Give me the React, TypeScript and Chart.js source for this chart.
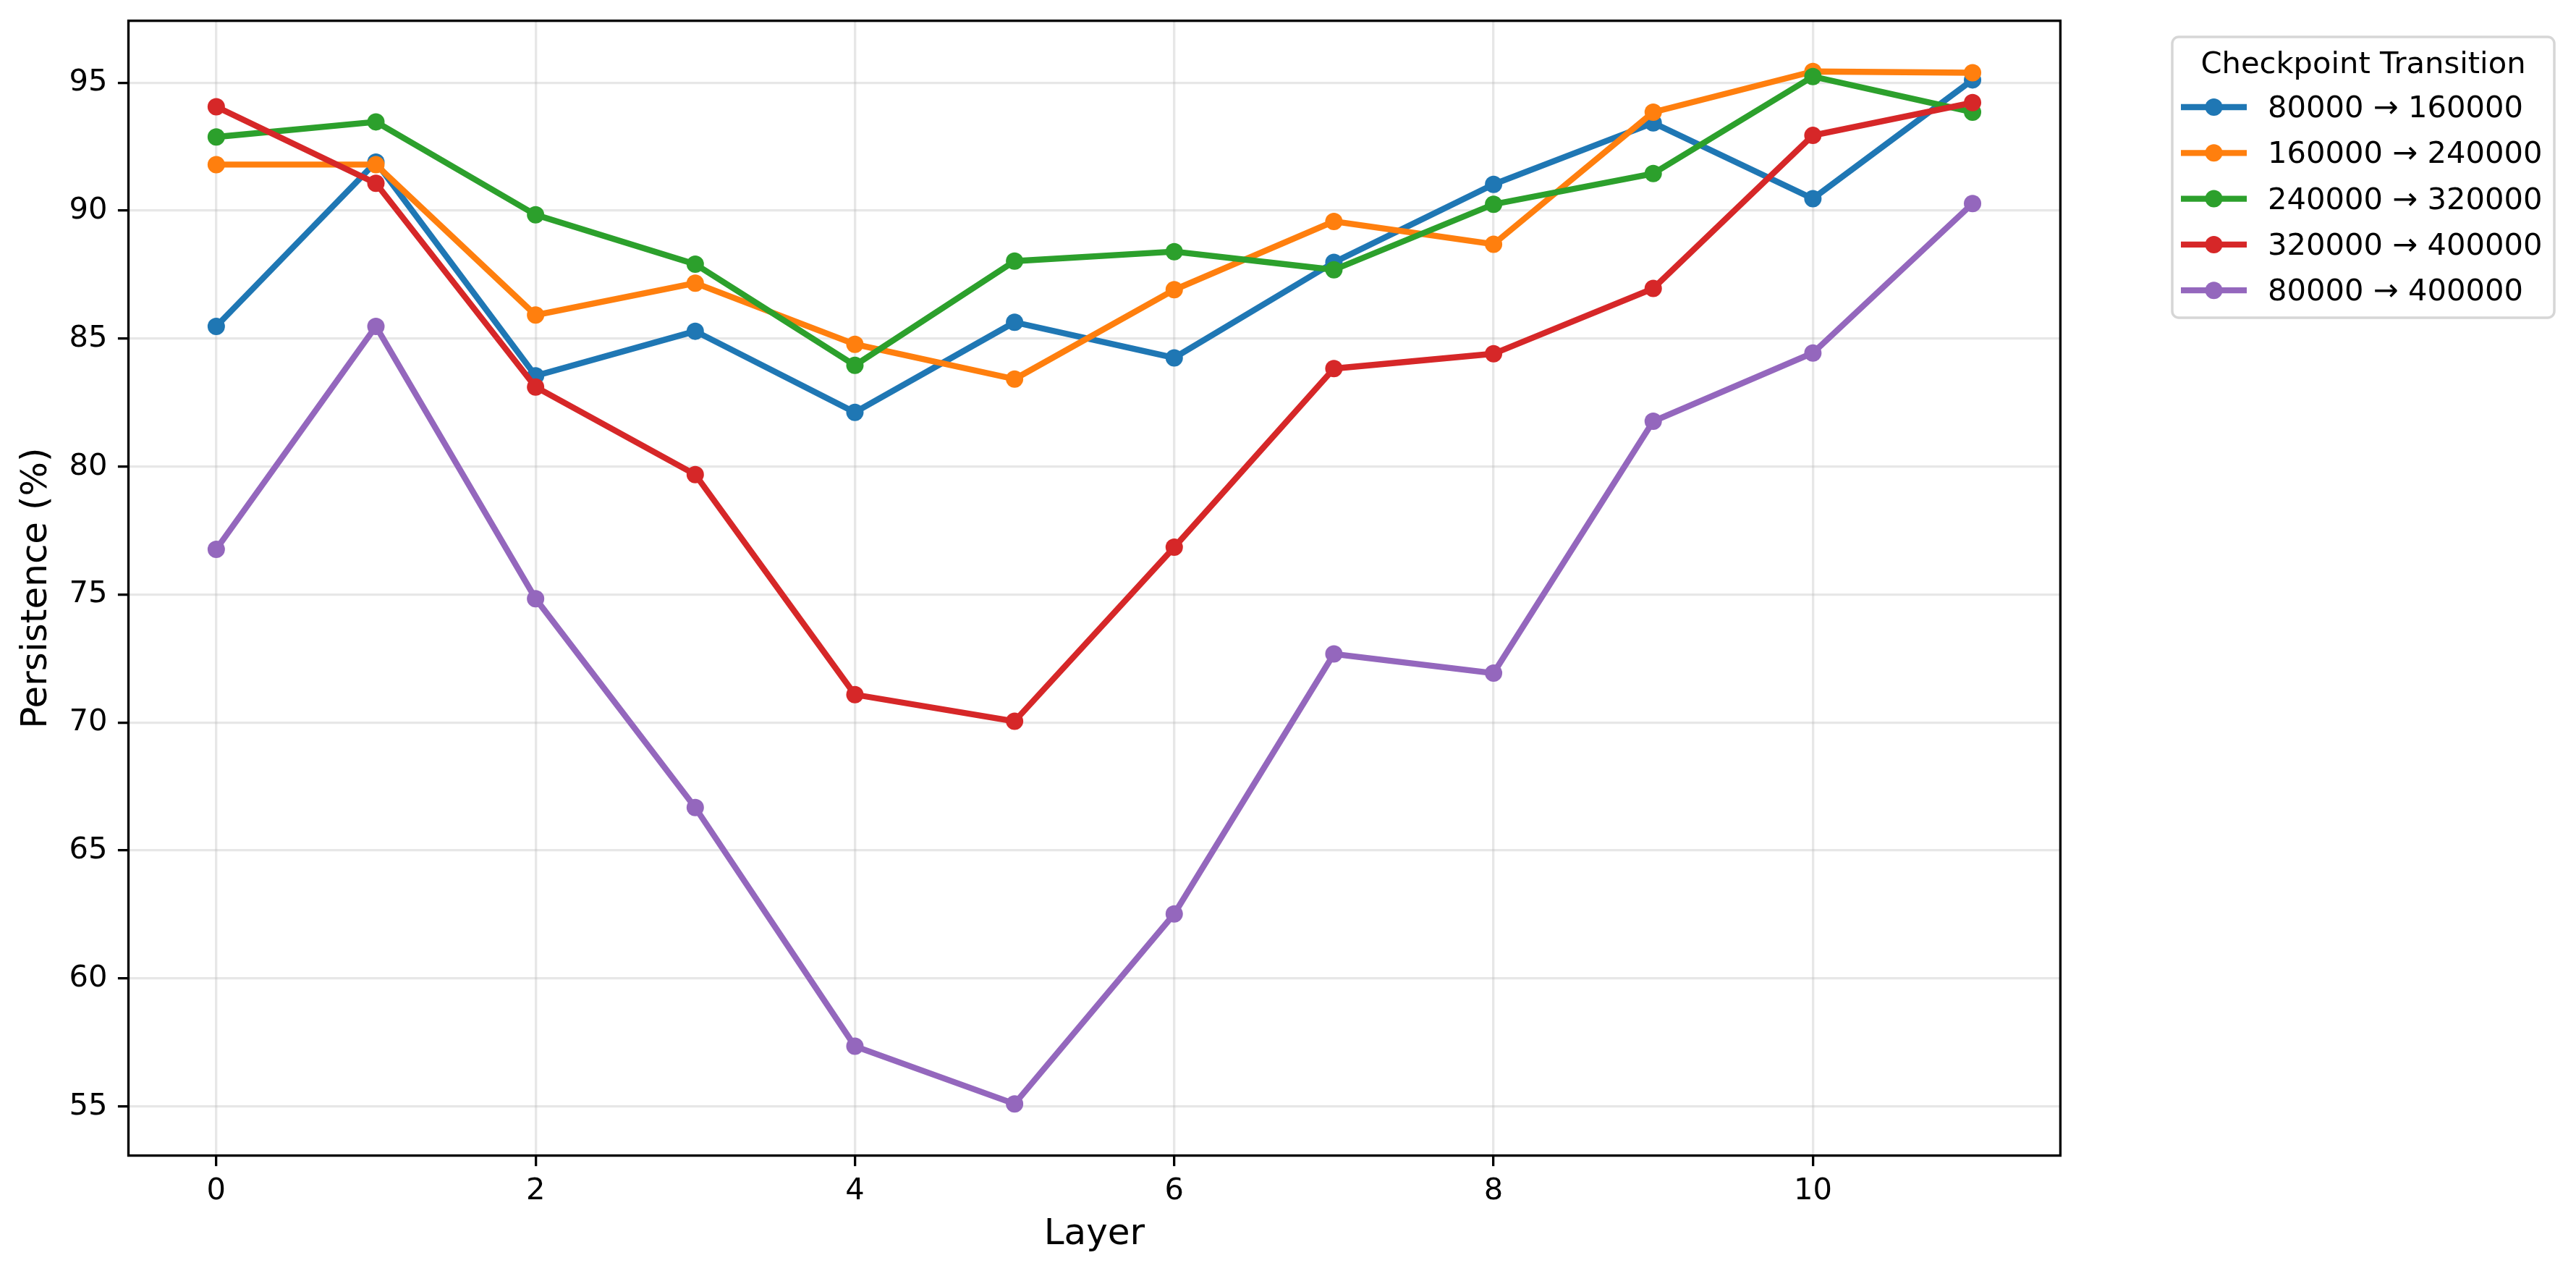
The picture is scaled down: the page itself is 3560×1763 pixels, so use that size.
import React, { useEffect, useRef } from "react";
import { Chart, registerables } from "chart.js";

Chart.register(...registerables);

// ---- Data ----
const layers = [0, 1, 2, 3, 4, 5, 6, 7, 8, 9, 10, 11];
const seriesLabels = [
  "80000 → 160000",
  "160000 → 240000",
  "240000 → 320000",
  "320000 → 400000",
  "80000 → 400000",
];
const s80to160 = [85.48, 91.9, 83.55, 85.29, 82.12, 85.64, 84.25, 87.98, 91.03, 93.43, 90.47, 95.11];
const s160to240 = [91.8, 91.8, 85.92, 87.17, 84.78, 83.42, 86.91, 89.58, 88.69, 93.85, 95.44, 95.39];
const s240to320 = [92.88, 93.47, 89.84, 87.91, 83.96, 88.03, 88.4, 87.69, 90.25, 91.45, 95.24, 93.85];
const s320to400 = [94.06, 91.07, 83.11, 79.69, 71.09, 70.05, 76.85, 83.83, 84.41, 86.96, 92.94, 94.22];
const s80to400 = [76.77, 85.48, 74.84, 66.68, 57.35, 55.1, 62.52, 72.68, 71.93, 81.77, 84.44, 90.28];
const seriesValues = [s80to160, s160to240, s240to320, s320to400, s80to400];
const seriesColors = ["#1f77b4", "#ff7f0e", "#2ca02c", "#d62728", "#9467bd"];

const xTickValues = [0, 2, 4, 6, 8, 10];
const yTickValues = [55, 60, 65, 70, 75, 80, 85, 90, 95];
const xTitle = "Layer";
const yTitle = "Persistence (%)";
const legendTitle = "Checkpoint Transition";

// ---- Style / layout ----
const W = 3560;
const H = 1763;
const FONT = '"DejaVu Sans", "Liberation Sans", sans-serif';
const TICK_PX = 41.67;
const LABEL_PX = 50;

const framePlugin = {
  id: "mplFrame",
  afterDatasetsDraw(chart: any) {
    const { ctx, chartArea: a } = chart;
    ctx.save();
    ctx.strokeStyle = "#000";
    ctx.lineWidth = 3.33;
    ctx.strokeRect(a.left, a.top, a.right - a.left, a.bottom - a.top);
    ctx.restore();
  },
};

const legendPlugin = {
  id: "mplLegend",
  afterDraw(chart: any) {
    const { ctx, chartArea: a } = chart;
    const bx = a.right + 154.6;
    const by = a.top + 22.3;
    const bw = 528;
    const bh = 388;
    ctx.save();
    ctx.beginPath();
    (ctx as any).roundRect(bx, by, bw, bh, 9);
    ctx.fillStyle = "rgba(255,255,255,0.8)";
    ctx.fill();
    ctx.strokeStyle = "#d6d6d6";
    ctx.lineWidth = 3.5;
    ctx.stroke();

    ctx.fillStyle = "#000";
    ctx.font = `${TICK_PX}px ${FONT}`;
    ctx.textAlign = "center";
    ctx.textBaseline = "alphabetic";
    ctx.fillText(legendTitle, bx + bw / 2, by + 49.5);

    chart.data.datasets.forEach((ds: any, i: number) => {
      const base = by + 111 + i * 63.3;
      const cy = base - 14;
      const hx0 = bx + 12;
      const hx1 = bx + 103;
      ctx.strokeStyle = ds.borderColor;
      ctx.lineWidth = 8.33;
      ctx.lineCap = "butt";
      ctx.beginPath();
      ctx.moveTo(hx0, cy);
      ctx.lineTo(hx1, cy);
      ctx.stroke();
      ctx.fillStyle = ds.borderColor;
      ctx.beginPath();
      ctx.arc((hx0 + hx1) / 2, cy, 12, 0, Math.PI * 2);
      ctx.fill();
      ctx.fillStyle = "#000";
      ctx.textAlign = "left";
      ctx.fillText(ds.label, bx + 132, base);
    });
    ctx.restore();
  },
};

export default function App() {
  const ref = useRef<HTMLCanvasElement | null>(null);

  useEffect(() => {
    document.body.style.margin = "0";
    document.body.style.overflow = "hidden";
    const canvas = ref.current;
    if (!canvas) return;

    const datasets = seriesValues.map((vals, i) => ({
      label: seriesLabels[i],
      data: layers.map((l, j) => ({ x: l, y: vals[j] })),
      borderColor: seriesColors[i],
      backgroundColor: seriesColors[i],
      pointBackgroundColor: seriesColors[i],
      pointBorderWidth: 0,
      pointRadius: 12,
      pointHoverRadius: 12,
      borderWidth: 8.33,
      borderJoinStyle: "round" as const,
      borderCapStyle: "butt" as const,
      tension: 0,
      fill: false,
      order: -i,
    }));

    const chart = new Chart(canvas, {
      type: "line",
      data: { datasets },
      options: {
        responsive: false,
        animation: false,
        devicePixelRatio: 1,
        events: [],
        layout: {
          padding: { left: 0, top: 28.7, right: W - 2847.4, bottom: 0 },
        },
        plugins: {
          legend: { display: false },
          tooltip: { enabled: false },
          title: { display: false },
        },
        scales: {
          x: {
            type: "linear",
            min: -0.55,
            max: 11.55,
            afterBuildTicks: (scale: any) => {
              scale.ticks = xTickValues.map((v) => ({ value: v }));
            },
            afterFit: (scale: any) => {
              scale.height = H - 1596.6;
              scale.paddingLeft = 0;
              scale.paddingRight = 0;
              scale.paddingTop = 0;
              scale.paddingBottom = 0;
            },
            border: { display: false },
            grid: {
              color: "rgba(176,176,176,0.3)",
              lineWidth: 3.3,
              drawTicks: true,
              tickLength: 14.6,
              tickColor: "#000",
              tickWidth: 3.3,
            },
            ticks: {
              autoSkip: false,
              maxRotation: 0,
              color: "#000",
              padding: 10,
              font: { family: FONT, size: TICK_PX },
              callback: (v: any) => String(v),
            },
            title: {
              display: true,
              text: xTitle,
              color: "#000",
              font: { family: FONT, size: LABEL_PX },
              padding: { top: 0, bottom: 26.7 },
            },
          },
          y: {
            type: "linear",
            min: 53.08,
            max: 97.42,
            afterBuildTicks: (scale: any) => {
              scale.ticks = yTickValues.map((v) => ({ value: v }));
            },
            afterFit: (scale: any) => {
              scale.width = 177.5;
              scale.paddingLeft = 0;
              scale.paddingRight = 0;
              scale.paddingTop = 0;
              scale.paddingBottom = 0;
            },
            border: { display: false },
            grid: {
              color: "rgba(176,176,176,0.3)",
              lineWidth: 3.3,
              drawTicks: true,
              tickLength: 14.6,
              tickColor: "#000",
              tickWidth: 3.3,
            },
            ticks: {
              autoSkip: false,
              color: "#000",
              padding: 14.5,
              font: { family: FONT, size: TICK_PX },
              callback: (v: any) => String(v),
            },
            title: {
              display: true,
              text: yTitle,
              color: "#000",
              font: { family: FONT, size: LABEL_PX },
              padding: { top: 21, bottom: 0 },
            },
          },
        },
      },
      plugins: [framePlugin, legendPlugin],
    });

    return () => chart.destroy();
  }, []);

  return (
    <canvas
      ref={ref}
      width={W}
      height={H}
      style={{ display: "block", width: W + "px", height: H + "px" }}
    />
  );
}
